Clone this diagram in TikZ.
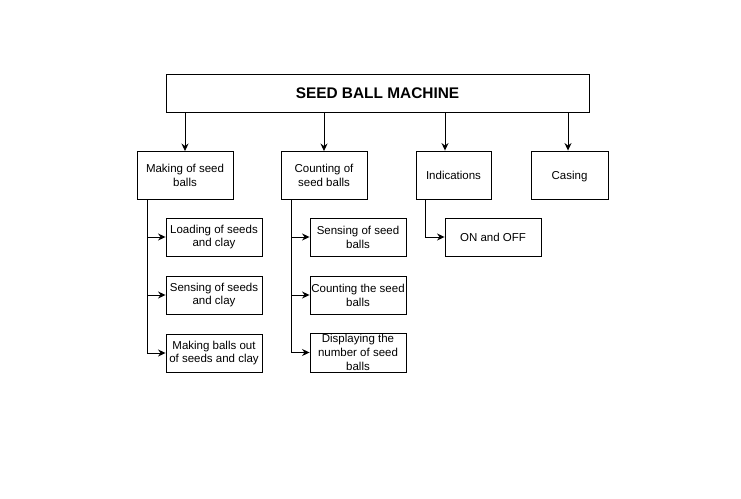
\documentclass[tikz,border=0pt]{standalone}
\usepackage{fontspec}
\setmainfont{Liberation Sans}
\usetikzlibrary{arrows.meta}
\begin{document}
\begin{tikzpicture}[x=1pt,y=-1pt,
  box/.style={draw=black, line width=0.9pt, inner sep=0pt, align=center,
    font=\fontsize{11.5}{13.8}\selectfont},
  oneline/.style={text height=10pt, text depth=0.5pt},
  arr/.style={draw=black, line width=0.9pt, -{Stealth[length=7.5pt,width=7pt]}}]
\useasboundingbox (0,0) rectangle (741,498);
% top level
\node[box, minimum width=423pt, minimum height=38pt, font=\fontsize{15.4}{18}\selectfont\bfseries]
  (title) at (377.5,93) {SEED BALL MACHINE};
% second level
\node[box, minimum width=96pt, minimum height=48pt] (mk) at (185,175.5) {Making of seed\\balls};
\node[box, minimum width=86pt, minimum height=48pt] (cnt) at (324,175.5) {Counting of\\seed balls};
\node[box, oneline, minimum width=75pt, minimum height=48pt] (ind) at (453.5,175) {Indications};
\node[box, oneline, minimum width=77pt, minimum height=48pt] (cas) at (569.5,175) {Casing};
% making sub-tasks
\node[box, minimum width=96pt, minimum height=38pt] (ld) at (214,237) {Loading of seeds\\and clay};
\node[box, minimum width=96pt, minimum height=38pt] (ss) at (214,295) {Sensing of seeds\\and clay};
\node[box, minimum width=96pt, minimum height=38pt] (mb) at (214,353) {Making balls out\\of seeds and clay};
% counting sub-tasks
\node[box, minimum width=96pt, minimum height=38pt] (sb) at (358,237) {Sensing of seed\\balls};
\node[box, minimum width=96pt, minimum height=38pt] (cb) at (358,295) {Counting the seed\\balls};
\node[box, minimum width=96pt, minimum height=39pt] (db) at (358,352.5) {Displaying the\\number of seed\\balls};
% indication sub-task
\node[box, oneline, minimum width=96pt, minimum height=38pt] (oo) at (493,237) {ON and OFF};
% connectors from the top box
\draw[arr] (title.south -| mk.north) -- (mk.north);
\draw[arr] (title.south -| cnt.north) -- (cnt.north);
\draw[arr] ([xshift=-8.5pt]ind.north |- title.south) -- ([xshift=-8.5pt]ind.north);
\draw[arr] ([xshift=-1.5pt]cas.north |- title.south) -- ([xshift=-1.5pt]cas.north);
% trunk lines to sub-tasks
\draw[arr] ([xshift=11pt]mk.south west) |- (ld.west);
\draw[arr] ([xshift=11pt]mk.south west) |- (ss.west);
\draw[arr] ([xshift=11pt]mk.south west) |- (mb.west);
\draw[arr] ([xshift=11pt]cnt.south west) |- (sb.west);
\draw[arr] ([xshift=11pt]cnt.south west) |- (cb.west);
\draw[arr] ([xshift=11pt]cnt.south west) |- (db.west);
\draw[arr] ([xshift=10pt]ind.south west) |- (oo.west);
\end{tikzpicture}
\end{document}
